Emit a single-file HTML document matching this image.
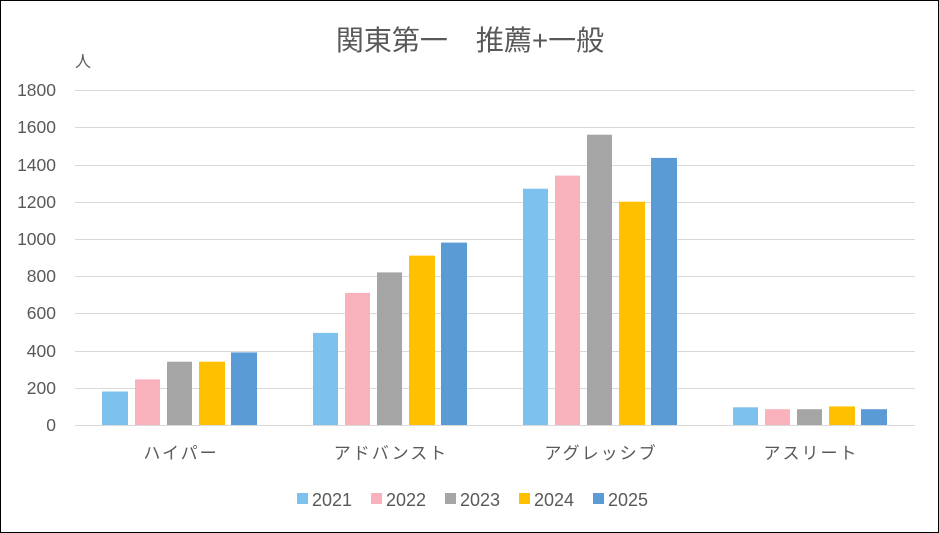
<!DOCTYPE html>
<html><head><meta charset="utf-8"><style>
html,body{margin:0;padding:0;background:#fff}
svg{display:block}
text{font-family:"Liberation Sans","Noto Sans CJK JP",sans-serif;fill:#595959}
</style></head><body>
<svg width="939" height="533" viewBox="0 0 939 533">
<rect x="0.5" y="0.5" width="938" height="532" fill="#fff" stroke="#000" stroke-width="1"/>
<text x="470" y="50" font-size="28" text-anchor="middle">関東第一　推薦+一般</text>
<text x="83" y="67" font-size="16" text-anchor="middle">人</text>
<g stroke="#d9d9d9" stroke-width="1">
<line x1="75" x2="915" y1="90.5" y2="90.5"/><line x1="75" x2="915" y1="127.5" y2="127.5"/>
<line x1="75" x2="915" y1="165.5" y2="165.5"/><line x1="75" x2="915" y1="202.5" y2="202.5"/>
<line x1="75" x2="915" y1="239.5" y2="239.5"/><line x1="75" x2="915" y1="276.5" y2="276.5"/>
<line x1="75" x2="915" y1="313.5" y2="313.5"/><line x1="75" x2="915" y1="351.5" y2="351.5"/>
<line x1="75" x2="915" y1="388.5" y2="388.5"/><line x1="75" x2="915" y1="425.5" y2="425.5"/>
</g>
<g font-size="17.5" text-anchor="end">
<text x="56" y="96">1800</text><text x="56" y="133">1600</text><text x="56" y="171">1400</text>
<text x="56" y="208">1200</text><text x="56" y="245">1000</text><text x="56" y="282">800</text>
<text x="56" y="319">600</text><text x="56" y="357">400</text><text x="56" y="394">200</text>
<text x="56" y="431">0</text>
</g>
<g>
<rect x="102" y="391.5" width="26" height="33.5" fill="#7dc1ee"/>
<rect x="135" y="379.4" width="25" height="45.6" fill="#f9b1bb"/>
<rect x="167" y="361.7" width="25" height="63.3" fill="#a5a5a5"/>
<rect x="199" y="361.7" width="26" height="63.3" fill="#ffc000"/>
<rect x="231" y="352.4" width="26" height="72.6" fill="#5b9bd5"/>

<rect x="313" y="332.9" width="25" height="92.1" fill="#7dc1ee"/>
<rect x="345" y="292.9" width="25" height="132.1" fill="#f9b1bb"/>
<rect x="377" y="272.4" width="25" height="152.6" fill="#a5a5a5"/>
<rect x="409" y="255.6" width="26" height="169.4" fill="#ffc000"/>
<rect x="441" y="242.6" width="26" height="182.4" fill="#5b9bd5"/>

<rect x="523" y="188.7" width="25" height="236.3" fill="#7dc1ee"/>
<rect x="555" y="175.6" width="25" height="249.4" fill="#f9b1bb"/>
<rect x="587" y="134.7" width="25" height="290.3" fill="#a5a5a5"/>
<rect x="619" y="201.7" width="26" height="223.3" fill="#ffc000"/>
<rect x="651" y="157.9" width="26" height="267.1" fill="#5b9bd5"/>

<rect x="733" y="407.3" width="25" height="17.7" fill="#7dc1ee"/>
<rect x="765" y="409.2" width="25" height="15.8" fill="#f9b1bb"/>
<rect x="797" y="409.2" width="25" height="15.8" fill="#a5a5a5"/>
<rect x="829" y="406.4" width="26" height="18.6" fill="#ffc000"/>
<rect x="861" y="409.2" width="26" height="15.8" fill="#5b9bd5"/>
</g>
<g font-size="17" text-anchor="middle" letter-spacing="2">
<text x="181" y="459">ハイパー</text>
<text x="391" y="459">アドバンスト</text>
<text x="601" y="459">アグレッシブ</text>
<text x="811" y="459">アスリート</text>
</g>
<g font-size="18">
<rect x="297" y="493" width="11" height="11" fill="#7dc1ee"/><text x="312" y="506">2021</text>
<rect x="371" y="493" width="11" height="11" fill="#f9b1bb"/><text x="386" y="506">2022</text>
<rect x="445" y="493" width="11" height="11" fill="#a5a5a5"/><text x="460" y="506">2023</text>
<rect x="519" y="493" width="11" height="11" fill="#ffc000"/><text x="534" y="506">2024</text>
<rect x="593" y="493" width="11" height="11" fill="#5b9bd5"/><text x="608" y="506">2025</text>
</g>
</svg>
</body></html>
